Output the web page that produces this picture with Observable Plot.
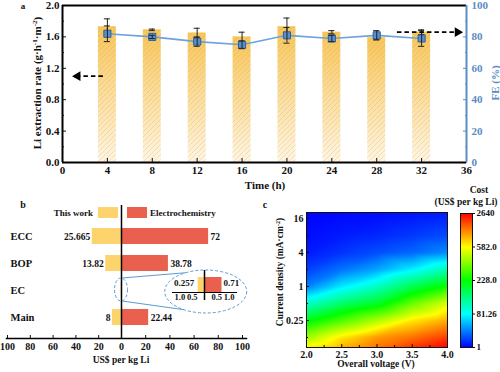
<!DOCTYPE html>
<html><head><meta charset="utf-8">
<script src="https://cdn.jsdelivr.net/npm/d3@7"></script>
<script src="https://cdn.jsdelivr.net/npm/@observablehq/plot@0.6"></script>
<style>
body{margin:0;background:#fff;}
#root{position:relative;width:500px;height:372px;overflow:hidden;font-family:"Liberation Serif","Times New Roman",serif;font-weight:bold;color:#111;}
#root svg{position:absolute;overflow:visible;}
sup{font-size:0.65em;vertical-align:0.45em;line-height:0;}
</style></head><body><div id="root"></div>
<script>
// ---------- Panel a data ----------
const times = [4, 8, 12, 16, 20, 24, 28, 32];
const liRate = [1.73, 1.69, 1.65, 1.60, 1.73, 1.66, 1.59, 1.66];
const liRateErr = [0.10, 0.01, 0.06, 0.06, 0.11, 0.02, 0.02, 0.03];
const feValues = [82, 80, 77, 75, 81, 79, 81, 79];
const feErr = [5, 1, 3, 2.5, 5, 2, 3, 5];
const timeTicks = [0, 4, 8, 12, 16, 20, 24, 28, 32, 36];
const rateTicks = [0, 0.4, 0.8, 1.2, 1.6, 2.0];
const rateMinorTicks = [0.2, 0.6, 1.0, 1.4, 1.8];
const feTicks = [0, 20, 40, 60, 80, 100];
const feMinorTicks = [10, 30, 50, 70, 90];
const arrowNotes = [{from: 3.6, to: 1.35, level: 1.10, dir: -90}, {from: 29.8, to: 35.2, level: 1.66, dir: 90}];

// ---------- Panel b data ----------
const categories = ["ECC", "BOP", "EC", "Main"];
const thisWork = [25.665, 13.82, 0.257, 8];
const electrochemistry = [72, 38.78, 0.71, 22.44];
const thisWorkLabels = ["25.665", "13.82", "0.257", "8"];
const electroLabels = ["72", "38.78", "0.71", "22.44"];
const costAxisTicks = [-100, -80, -60, -40, -20, 0, 20, 40, 60, 80, 100];
const insetTicks = [-1, -0.5, 0.5, 1];

// ---------- Panel c data ----------
const voltages = [2, 2.5, 3, 3.5, 4];
const currentDensities = [0.083, 0.125, 0.25, 0.5, 1, 2, 4, 8, 16, 20.4];
const costGrid = [
  [685, 451, 216, 112, 41.1, 21.1, 9.0, 5.0, 2.6, 2.2],        // 2.0 V
  [1199, 767, 334, 168, 74.8, 37.1, 17.1, 9.0, 5.0, 4.2],      // 2.5 V
  [1714, 1405, 465, 206, 115, 53.2, 25.1, 13.0, 6.6, 5.8],     // 3.0 V
  [2228, 1734, 747, 373, 182, 77.2, 33.1, 18.7, 9.8, 8.2],     // 3.5 V
  [2640, 2146, 1241, 532, 246, 125, 45.1, 25.1, 13.0, 10.6]    // 4.0 V
];
const voltageTicks = [2, 2.5, 3, 3.5, 4];
const voltageMinor = [2.25, 2.75, 3.25, 3.75];
const densityTicks = [0.25, 1, 4, 16];
const densityMinor = [0.125, 0.5, 2, 8];
const colorTicks = [1, 81.26, 228, 582, 2640];
const colorTickLabels = ["1", "81.26", "228.0", "582.0", "2640"];
const colorRamp = ["#0000ff", "#00ffff", "#00ff00", "#ffff00", "#ff0000"];

// ---------- helpers ----------
const root = document.getElementById("root");
const FONT = "Liberation Serif, Times New Roman, serif";
function put(svg, left, top) { svg.style.left = left + "px"; svg.style.top = top + "px"; root.appendChild(svg); }
function label(html, cx, cy, {size = 11, rotate = 0, color = "#111", anchor = "middle"} = {}) {
  const d = document.createElement("div");
  d.innerHTML = html;
  const tx = anchor === "middle" ? -50 : anchor === "end" ? -100 : 0;
  d.style.cssText = `position:absolute;left:${cx}px;top:${cy}px;font-size:${size}px;color:${color};white-space:nowrap;line-height:1;transform:translate(${tx}%,-50%) rotate(${rotate}deg);`;
  root.appendChild(d);
}
const styleOf = (size) => ({fontFamily: FONT, fontSize: size + "px", fontWeight: "bold", color: "#111", background: "transparent", overflow: "visible"});

// ---------- Panel a ----------
const feScale = 2 / 100; // FE (%) onto the left (rate) axis
const blue = "#5b8cc2";
const aData = times.map((t, i) => ({t, rate: liRate[i], rErr: liRateErr[i], fe: feValues[i], feErr: feErr[i]}));
const defsA = () => {
  const defs = d3.create("svg:defs");
  const g = defs.append("linearGradient").attr("id", "barGrad").attr("x1", 0).attr("x2", 0).attr("y1", 0).attr("y2", 1);
  g.append("stop").attr("offset", "0%").attr("stop-color", "#f8c65a");
  g.append("stop").attr("offset", "100%").attr("stop-color", "#fef5e3");
  const p = defs.append("pattern").attr("id", "hatch").attr("patternUnits", "userSpaceOnUse").attr("width", 5).attr("height", 5);
  p.append("path").attr("d", "M-1,1 l2,-2 M0,5 l5,-5 M4,6 l2,-2").attr("stroke", "rgba(205,145,40,0.28)").attr("stroke-width", 0.8);
  return defs.node();
};
const half = 0.8, cap = 0.27;
const plotA = Plot.plot({
  width: 500, height: 190, marginLeft: 62, marginRight: 34, marginTop: 5, marginBottom: 28,
  style: styleOf(11),
  x: {domain: [0, 36]},
  y: {domain: [0, 2]},
  marks: [
    defsA,
    Plot.rectY(aData, {x1: d => d.t - half, x2: d => d.t + half, y1: 0, y2: "rate", fill: "url(#barGrad)"}),
    Plot.rectY(aData, {x1: d => d.t - half, x2: d => d.t + half, y1: 0, y2: "rate", fill: "url(#hatch)"}),
    Plot.ruleX(aData, {x: "t", y1: d => d.rate - d.rErr, y2: d => d.rate + d.rErr, stroke: "#222", strokeWidth: 1}),
    Plot.ruleY(aData, {y: d => d.rate + d.rErr, x1: d => d.t - cap, x2: d => d.t + cap, stroke: "#222", strokeWidth: 1}),
    Plot.ruleY(aData, {y: d => d.rate - d.rErr, x1: d => d.t - cap, x2: d => d.t + cap, stroke: "#222", strokeWidth: 1}),
    Plot.line(aData, {x: "t", y: d => d.fe * feScale, stroke: "#6ea2da", strokeWidth: 1.6}),
    Plot.dot(aData, {x: "t", y: d => d.fe * feScale, symbol: "square", r: 4, fill: "#5a8fcf", stroke: "#2f5f98", strokeWidth: 1}),
    Plot.ruleX(aData, {x: "t", y1: d => (d.fe - d.feErr) * feScale, y2: d => (d.fe + d.feErr) * feScale, stroke: "#222", strokeWidth: 1}),
    Plot.ruleY(aData, {y: d => (d.fe + d.feErr) * feScale, x1: d => d.t - cap, x2: d => d.t + cap, stroke: "#222", strokeWidth: 1}),
    Plot.ruleY(aData, {y: d => (d.fe - d.feErr) * feScale, x1: d => d.t - cap, x2: d => d.t + cap, stroke: "#222", strokeWidth: 1}),
    Plot.link(arrowNotes, {x1: "from", x2: "to", y1: "level", y2: "level", stroke: "#000", strokeWidth: 1.7, strokeDasharray: "4.5,3"}),
    Plot.dot(arrowNotes, {x: "to", y: "level", symbol: "triangle", rotate: "dir", r: 3.6, fill: "#000", stroke: "none"}),
    Plot.axisY(rateTicks, {anchor: "left", tickSize: -4, tickPadding: 7, tickFormat: d => d.toFixed(1), label: null}),
    Plot.axisY(rateMinorTicks, {anchor: "left", tickSize: -2, tickFormat: () => "", label: null}),
    Plot.axisX(timeTicks, {anchor: "bottom", tickSize: -4, tickPadding: 8, tickFormat: d => String(d), label: null}),
    Plot.axisY(feTicks.map(v => v * feScale), {anchor: "right", tickSize: -4, tickPadding: 9, tickFormat: d => String(Math.round(d / feScale)), color: blue, label: null}),
    Plot.axisY(feMinorTicks.map(v => v * feScale), {anchor: "right", tickSize: -2, tickFormat: () => "", color: blue, label: null}),
    Plot.ruleY([0, 2], {stroke: "#000", strokeWidth: 2}),
    Plot.ruleX([0], {stroke: "#000", strokeWidth: 2}),
    Plot.ruleX([36], {stroke: blue, strokeWidth: 2})
  ]
});
put(plotA, 0, 0);
label("a", 23, 6, {size: 9});
label("Li extraction rate (g·h<sup>-1</sup>·m<sup>-2</sup>)", 37, 83, {size: 11, rotate: -90});
label("FE (%)", 495, 83, {size: 11, rotate: -90, color: blue});
label("Time (h)", 265, 185, {size: 11});

// ---------- Panel b ----------
const yellow = "#fdd36e", red = "#e9614e";
const bData = categories.map((c, i) => ({cat: c, tw: thisWork[i], ec: electrochemistry[i], twL: thisWorkLabels[i], ecL: electroLabels[i]}));
const bMain = bData.filter(d => d.cat !== "EC");
const bInset = bData.filter(d => d.cat === "EC");
function zoomDecor(index, scales) {
  const x0 = scales.x(0);
  const bw = typeof scales.y.bandwidth === "function" ? scales.y.bandwidth() : 16;
  const cy = scales.y("EC") + bw / 2;
  const bx = scales.x(70), by = cy + 1.5, rx = 41, ry = 21.5;
  const g = d3.create("svg:g").attr("fill", "none").attr("stroke", "#5c9ad4").attr("stroke-width", 1);
  g.append("ellipse").attr("cx", x0).attr("cy", cy - 0.5).attr("rx", 6.5).attr("ry", 11.5).attr("stroke-dasharray", "3,2");
  g.append("ellipse").attr("cx", bx).attr("cy", by).attr("rx", rx).attr("ry", ry).attr("stroke-dasharray", "3,2");
  const e = (dx, s) => [bx + dx, by + s * ry * Math.sqrt(1 - (dx / rx) ** 2)];
  const [tx, ty] = e(-20, -1), [lx, ly] = e(-22, 1);
  g.append("line").attr("x1", x0 + 1).attr("y1", cy - 12).attr("x2", tx).attr("y2", ty);
  g.append("line").attr("x1", x0 + 1).attr("y1", cy + 11).attr("x2", lx).attr("y2", ly);
  return g.node();
}
const plotB = Plot.plot({
  width: 250, height: 182, marginLeft: 6, marginRight: 4, marginTop: 15, marginBottom: 34,
  style: styleOf(10),
  x: {type: "linear", domain: [-100, 0, 100], range: [7, 121, 242]},
  y: {domain: categories, paddingInner: 0.4, paddingOuter: 0.636, align: 0.63, axis: null},
  marks: [
    Plot.barX(bData, {y: "cat", x1: 0, x2: d => -d.tw, fill: yellow}),
    Plot.barX(bData, {y: "cat", x1: 0, x2: "ec", fill: red}),
    Plot.text(bMain, {y: "cat", x: d => -d.tw, text: "twL", textAnchor: "end", dx: -2, fontSize: 9.5}),
    Plot.text(bMain, {y: "cat", x: "ec", text: "ecL", textAnchor: "start", dx: 2, fontSize: 9.5}),
    Plot.text(categories, {y: d => d, frameAnchor: "left", textAnchor: "start", dx: 4, fontSize: 10.5}),
    Plot.ruleX([0], {stroke: "#000", strokeWidth: 1.5}),
    Plot.frame({anchor: "bottom", stroke: "#000", strokeWidth: 1.5}),
    Plot.axisX(costAxisTicks, {anchor: "bottom", tickSize: -3, tickPadding: 7, tickFormat: d => String(Math.abs(d)), label: null}),
    zoomDecor
  ]
});
put(plotB, 0, 190);
label("b", 23, 205, {size: 10});
label("US$ per kg Li", 121, 361, {size: 9.5});
// legend
label("This work", 93, 213, {size: 9, anchor: "end"});
label("Electrochemistry", 150, 213, {size: 9, anchor: "start"});
(function legendSwatches() {
  for (const [x, c] of [[98, yellow], [127, red]]) {
    const s = document.createElement("div");
    s.style.cssText = `position:absolute;left:${x}px;top:207px;width:20px;height:11px;background:${c};`;
    root.appendChild(s);
  }
})();

// inset of panel b (EC zoom)
const plotInset = Plot.plot({
  width: 80, height: 36, marginLeft: 8, marginRight: 8, marginTop: 4, marginBottom: 10,
  style: styleOf(8.5),
  x: {domain: [-1.3, 1.3], axis: null},
  marks: [
    Plot.barX(bInset, {x1: 0, x2: d => -d.tw, fill: yellow, insetTop: 7}),
    Plot.barX(bInset, {x1: 0, x2: "ec", fill: red, insetTop: 7}),
    Plot.text(bInset, {x: d => -d.tw, text: "twL", textAnchor: "end", dx: -4, frameAnchor: "bottom", dy: -7, fontSize: 9}),
    Plot.text(bInset, {x: "ec", text: "ecL", textAnchor: "start", dx: 1.5, frameAnchor: "bottom", dy: -7, fontSize: 9}),
    Plot.frame({anchor: "bottom", stroke: "#000", strokeWidth: 1.2}),
    Plot.ruleX([0], {stroke: "#000", strokeWidth: 1.5, insetBottom: -8}),
    Plot.axisX(insetTicks, {anchor: "bottom", tickSize: 0, tickPadding: 1, tickFormat: d => Math.abs(d).toFixed(1), label: null})
  ]
});
put(plotInset, 164, 266);

// ---------- Panel c ----------
const tIndex = d3.scaleLinear().domain(colorTicks).range([0, 1, 2, 3, 4]).clamp(true);
const cells = voltages.flatMap((v, i) => currentDensities.map((j, k) => ({v, j, cost: costGrid[i][k]})));
const colorOpt = {type: "linear", domain: [0, 1, 2, 3, 4], range: colorRamp};
const plotC = Plot.plot({
  width: 200, height: 182, marginLeft: 56, marginRight: 3, marginTop: 22, marginBottom: 25,
  style: styleOf(10),
  x: {domain: [2, 4]},
  y: {type: "log", base: 4, domain: [0.083, 20.4]},
  color: colorOpt,
  marks: [
    Plot.raster(cells, {x: "v", y: "j", fill: d => tIndex(d.cost), interpolate: "barycentric", pixelSize: 1, x1: 2, x2: 4, y1: 0.083, y2: 20.4}),
    Plot.frame({stroke: "#111", strokeWidth: 1}),
    Plot.axisX(voltageTicks, {anchor: "bottom", tickSize: -3, tickPadding: 6, tickFormat: d => d.toFixed(1), label: null}),
    Plot.axisX(voltageMinor, {anchor: "bottom", tickSize: -2, tickFormat: () => "", label: null}),
    Plot.axisY(densityTicks, {anchor: "left", tickSize: -3, tickPadding: 6, tickFormat: d => String(d), label: null}),
    Plot.axisY(densityMinor, {anchor: "left", tickSize: -2, tickFormat: () => "", label: null})
  ]
});
put(plotC, 250, 190);
label("c", 265, 205, {size: 10});
label("Overall voltage (V)", 376, 365, {size: 9.5});
label("Current density (mA·cm<sup>-2</sup>)", 281, 272, {size: 9.5, rotate: -90});

// colour bar
const plotBar = Plot.plot({
  width: 45, height: 182, marginLeft: 5, marginRight: 28, marginTop: 23, marginBottom: 25,
  style: styleOf(9),
  x: {domain: [0, 1], axis: null},
  y: {domain: [0, 4]},
  color: colorOpt,
  marks: [
    Plot.raster({fill: (x, y) => y, x1: 0, x2: 1, y1: 0, y2: 4, pixelSize: 1}),
    Plot.frame({stroke: "#111", strokeWidth: 1}),
    Plot.axisY([0, 1, 2, 3, 4], {anchor: "right", tickSize: 2, tickPadding: 2, tickFormat: i => colorTickLabels[i], label: null})
  ]
});
put(plotBar, 455, 190);
label("Cost", 479, 191, {size: 9.5});
label("(US$ per kg Li)", 466, 203, {size: 9.5});
</script></body></html>
